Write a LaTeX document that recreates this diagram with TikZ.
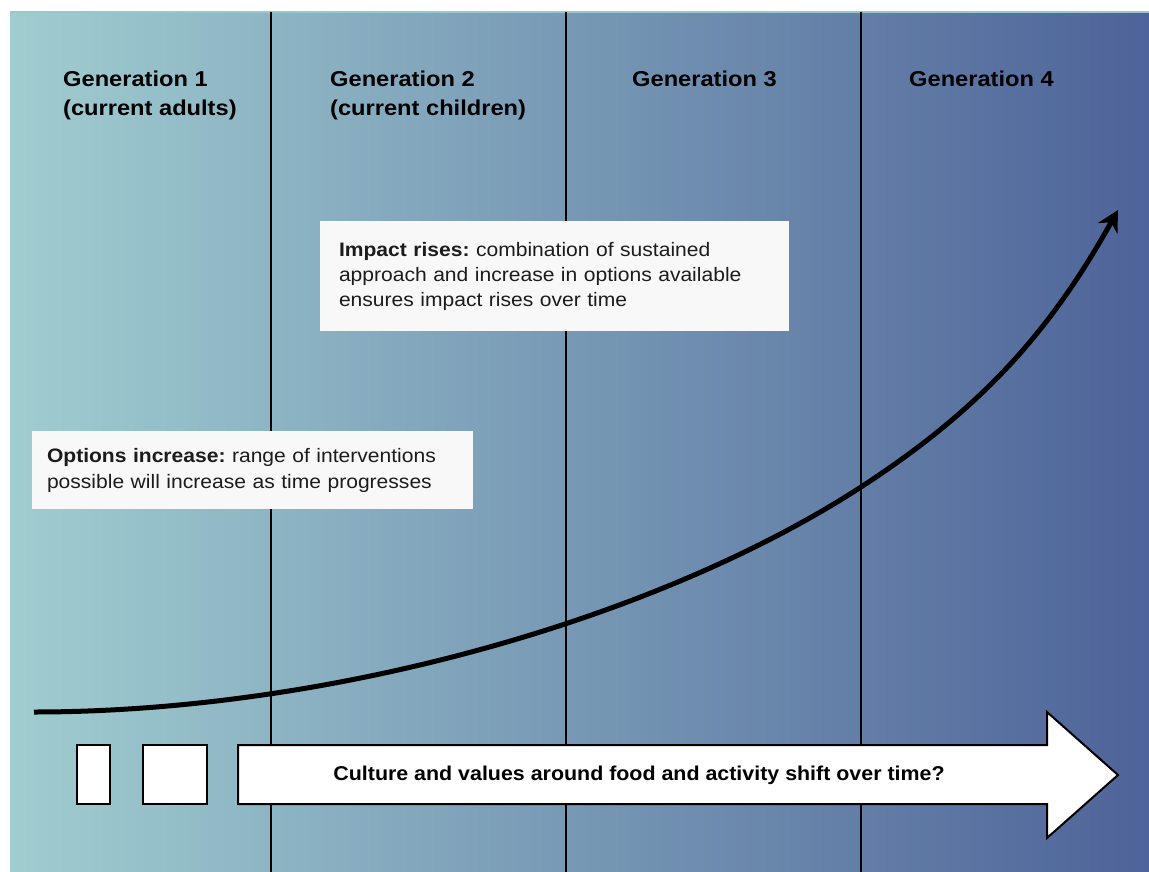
\documentclass[tikz,border=0pt]{standalone}
\usepackage{fontspec}
\setmainfont{Liberation Sans}
\newfontfamily\hdrfont[FakeStretch=1.1]{Liberation Sans}
\newfontfamily\bodyfont[FakeStretch=1.08]{Liberation Sans}
\newfontfamily\arrfont[FakeStretch=1.07]{Liberation Sans}
\usetikzlibrary{arrows.meta}
\definecolor{bgL}{RGB}{160,205,208}
\definecolor{bgR}{RGB}{78,99,153}
\definecolor{boxfill}{RGB}{248,248,248}
\definecolor{txt}{RGB}{28,28,28}
\definecolor{topedge}{RGB}{150,200,205}
\frenchspacing
\begin{document}
\begin{tikzpicture}[x=1pt,y=-1pt,
  divider/.style={line width=2.8pt, black},
  header/.style={anchor=north west, inner sep=0pt, align=left, font=\hdrfont\fontsize{21.5}{29}\selectfont\bfseries, text=black},
  infobox/.style={fill=boxfill, align=left, text=txt, anchor=center},
  curve/.style={line width=5pt, black, -{Stealth[length=21pt,width=22pt]}},
  smallbox/.style={draw=black, line width=2.4pt, fill=white, minimum height=59pt, inner sep=0pt},
  bigarrow/.style={draw=black, line width=2pt, fill=white, line join=miter},
]
\useasboundingbox (0,0) rectangle (1149,872);
\fill[white] (0,0) rectangle (1149,872);
\shade[left color=bgL, right color=bgR] (10,12) rectangle (1149,872);
\draw[topedge, line width=1.5pt] (10,12) -- (1149,12);
% dividers
\foreach \i/\x in {1/271,2/566,3/861}{
  \coordinate (t\i) at (\x,12);
  \coordinate (b\i) at (\x,872);
  \draw[divider] (t\i) -- (b\i);
}
% headers
\node[header] (g1) at (63,71) {Generation 1\\(current adults)};
\node[header] (g2) at (330,71) {Generation 2\\(current children)};
\node[header] (g3) at (632,71) {Generation 3};
\node[header] (g4) at (909,71) {Generation 4};
% info boxes
\node[infobox, minimum width=469pt, minimum height=110pt, inner xsep=19pt, text width=431pt, font=\bodyfont\fontsize{19.5}{25}\selectfont] (impact) at (554.5,276)
  {\textbf{Impact rises:} combination of sustained\\approach and increase in options available\\ensures impact rises over time};
\node[infobox, minimum width=441pt, minimum height=78pt, inner xsep=15pt, text width=411pt, font=\bodyfont\fontsize{19.5}{26}\selectfont] (options) at (252.5,470)
  {\textbf{Options increase:} range of interventions\\possible will increase as time progresses};
% curve
\coordinate (c0) at (34,712);
\coordinate (c1) at (861,487);
\coordinate (c2) at (1118,210);
\draw[curve] (c0) .. controls (334,712) and (661,617) .. (c1) .. controls (981,409) and (1050,332) .. (c2);
% small boxes
\node[smallbox, minimum width=33pt] (s1) at (93.5,774.5) {};
\node[smallbox, minimum width=64pt] (s2) at (175,774.5) {};
% big arrow
\draw[bigarrow] (238,745) -- (1047,745) -- (1047,712) -- (1118,775) -- (1047,838) -- (1047,804) -- (238,804) -- cycle;
\node[font=\arrfont\bfseries\fontsize{20}{22}\selectfont, text=black, inner sep=0pt] (culture) at (639,775) {Culture and values around food and activity shift over time?};
\end{tikzpicture}
\end{document}
